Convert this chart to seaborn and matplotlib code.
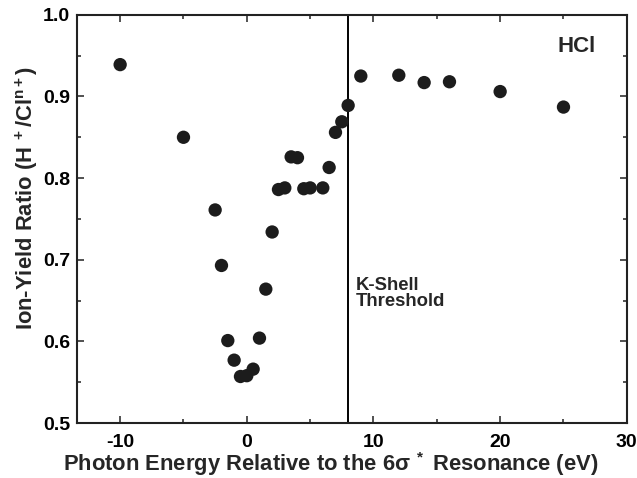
import numpy as np
import pandas as pd
import matplotlib
matplotlib.use("Agg")
import matplotlib.pyplot as plt
import seaborn as sns
from matplotlib.ticker import MultipleLocator

# photon energy relative to the 6sigma* resonance (eV) and H+/Cl n+ ratio
energy = [-10, -5, -2.5, -2, -1.5, -1, -0.5, 0, 0.5, 1, 1.5, 2, 2.5, 3, 3.5, 4,
          4.5, 5, 6, 6.5, 7, 7.5, 8, 9, 12, 14, 16, 20, 25]
ratio = [0.939, 0.850, 0.761, 0.693, 0.601, 0.577, 0.557, 0.558, 0.566, 0.604,
         0.664, 0.734, 0.786, 0.788, 0.826, 0.825, 0.787, 0.788, 0.788, 0.813,
         0.856, 0.869, 0.889, 0.925, 0.926, 0.917, 0.918, 0.906, 0.887]
threshold = 8

sns.set_style("ticks")
plt.rcParams["font.family"] = ["Liberation Sans", "DejaVu Sans"]
plt.rcParams["font.weight"] = "bold"
plt.rcParams["mathtext.fontset"] = "custom"
plt.rcParams["mathtext.bf"] = "Liberation Sans:bold"
plt.rcParams["mathtext.rm"] = "Liberation Sans:bold"
plt.rcParams["mathtext.it"] = "Liberation Sans:bold"
plt.rcParams["mathtext.default"] = "bf"

df = pd.DataFrame({"energy": energy, "ratio": ratio})

fig = plt.figure(figsize=(6.37, 4.78), dpi=100)
ax = fig.add_axes([0.121, 0.115, 0.863, 0.854])

sns.scatterplot(x="energy", y="ratio", data=df, ax=ax, s=92, color="#1c1c1c",
                edgecolor="none", zorder=3)
ax.axvline(threshold, color="black", lw=1.4, zorder=2)

ax.set_xlim(-13.4, 30)
ax.set_ylim(0.5, 1.0)
ax.xaxis.set_major_locator(MultipleLocator(10))
ax.xaxis.set_minor_locator(MultipleLocator(5))
ax.yaxis.set_major_locator(MultipleLocator(0.1))
ax.yaxis.set_minor_locator(MultipleLocator(0.05))
ax.set_xticks([-10, 0, 10, 20, 30])
ax.set_xticklabels(["-10", "0", "10", "20", "30"])
ax.yaxis.set_major_formatter(matplotlib.ticker.FormatStrFormatter("%.1f"))

ax.tick_params(which="both", direction="in", top=True, right=True, width=1.2,
               colors="#333333", labelcolor="black")
ax.tick_params(which="major", length=5, labelsize=14)
ax.tick_params(which="minor", length=3)
ax.tick_params(axis="x", pad=8)
ax.tick_params(axis="y", pad=5)
for sp in ax.spines.values():
    sp.set_linewidth(1.5)
    sp.set_color("#222222")

ax.set_xlabel("Photon Energy Relative to the 6σ$^{\\ *}$ Resonance (eV)",
              fontsize=15.8, fontweight="bold", va="baseline")
ax.xaxis.set_label_coords(0.462, -0.118)
ax.set_ylabel("Ion-Yield Ratio (H$^{\\ +}$/Cl$^{n+}$)", fontsize=15.8,
              fontweight="bold", va="center")
ax.yaxis.set_label_coords(-0.091, 0.551)

ax.text(24.5, 0.961, "HCl", fontsize=16, fontweight="bold", ha="left", va="center")
ax.text(8.6, 0.659, "K-Shell\nThreshold", fontsize=13.3, fontweight="bold",
        ha="left", va="center", linespacing=0.95)

plt.savefig("out.png", dpi=100)
